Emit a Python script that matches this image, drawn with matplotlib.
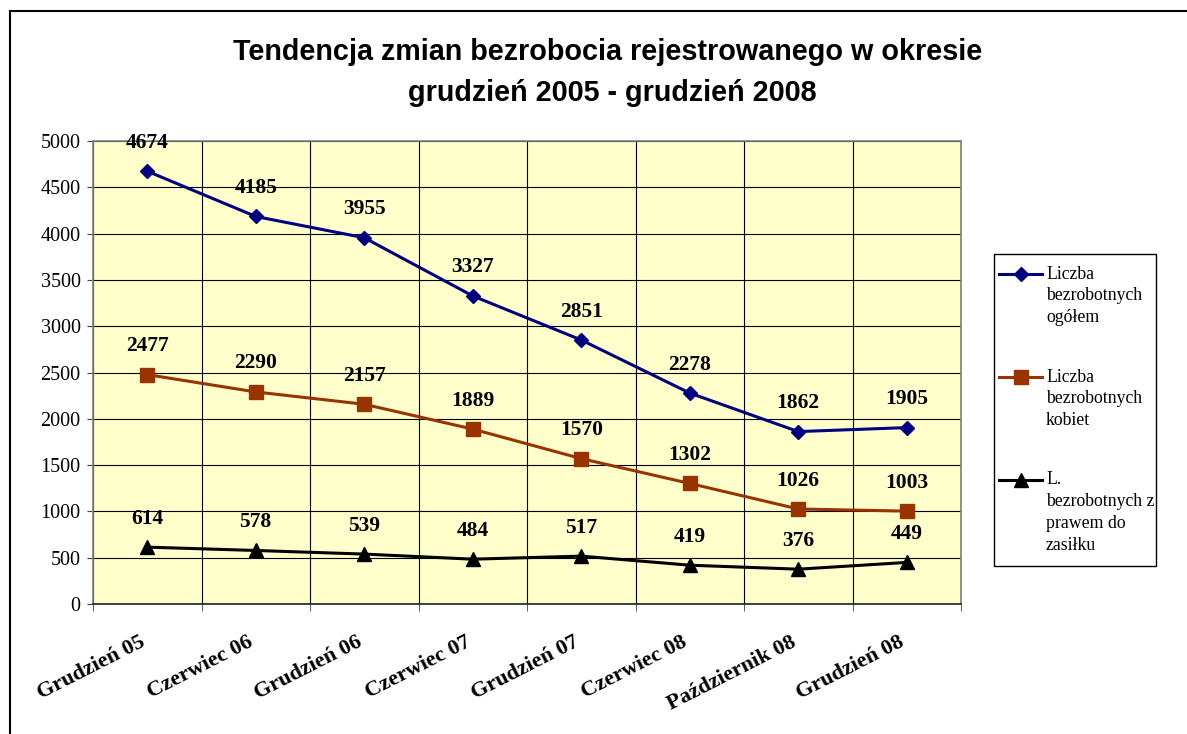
import matplotlib
matplotlib.use('Agg')
import matplotlib.pyplot as plt
from matplotlib.lines import Line2D
from matplotlib.patches import Rectangle

# ---- data ----
categories = ['Grudzień 05', 'Czerwiec 06', 'Grudzień 06', 'Czerwiec 07',
              'Grudzień 07', 'Czerwiec 08', 'Październik 08', 'Grudzień 08']
ogolem = [4674, 4185, 3955, 3327, 2851, 2278, 1862, 1905]
kobiety = [2477, 2290, 2157, 1889, 1570, 1302, 1026, 1003]
zasilek = [614, 578, 539, 484, 517, 419, 376, 449]
series_labels = ['Liczba\nbezrobotnych\nogółem',
                 'Liczba\nbezrobotnych\nkobiet',
                 'L.\nbezrobotnych z\nprawem do\nzasiłku']
yticks = list(range(0, 5001, 500))
title_lines = ['Tendencja zmian bezrobocia rejestrowanego w okresie',
               'grudzień 2005 - grudzień 2008']

W, H = 1187, 734
fig = plt.figure(figsize=(W / 100, H / 100), dpi=100)
fig.patch.set_facecolor('white')

def fx(x):
    return x / W

def fy(y):
    return 1 - y / H

SERIF = 'Liberation Serif'
SANS = 'Liberation Sans'

ax = fig.add_axes([fx(93), fy(604), (961 - 93) / W, (604 - 141) / H])
ax.set_facecolor('#FFFFCC')

styles = [('#000080', 'D', 7.5), ('#993300', 's', 9.5), ('#000000', '^', 10)]
xs = list(range(len(categories)))
for vals, (color, marker, ms) in zip([ogolem, kobiety, zasilek], styles):
    ax.plot(xs, vals, color=color, lw=2.2, marker=marker, ms=ms,
            mfc=color, mec=color, zorder=3, clip_on=False)
    for xi, v in zip(xs, vals):
        ax.annotate(str(v), (xi, v), xytext=(0, 20.5), textcoords='offset points',
                    ha='center', va='center', family=SERIF, fontweight='bold',
                    fontsize=15.5, zorder=4)

ax.set_xlim(-0.5, len(categories) - 0.5)
ax.set_ylim(0, 5000)
ax.set_yticks(yticks)
ax.set_yticklabels([str(t) for t in yticks], family=SERIF, fontsize=14.5)
ax.yaxis.grid(True, color='black', lw=0.8)
ax.set_xticks([i - 0.5 for i in range(len(categories) + 1)], minor=True)
ax.xaxis.grid(True, which='minor', color='black', lw=0.8)
ax.set_xticks(xs)
ax.tick_params(axis='x', which='major', length=0, labelbottom=False)
ax.tick_params(axis='x', which='minor', length=5, direction='out', color='#404040',
               labelbottom=False)
ax.tick_params(axis='y', length=4.5, pad=4.5, color='#404040')
for xi, cat in zip(xs, categories):
    ax.annotate(cat, (xi, 0), xycoords=('data', 'axes fraction'),
                xytext=(-5.8, -20.5), textcoords='offset points',
                rotation=27, ha='right', va='top', rotation_mode='anchor',
                family=SERIF, fontweight='bold', fontsize=16, annotation_clip=False)
ax.set_axisbelow(True)
for s in ['top', 'right', 'left']:
    ax.spines[s].set_color('#808080')
    ax.spines[s].set_linewidth(1.2)
ax.spines['bottom'].set_color('#202020')
ax.spines['bottom'].set_linewidth(1.2)

# title
fig.text(fx(608), fy(52), title_lines[0], ha='center', va='center',
         family=SANS, fontweight='bold', fontsize=20.7)
fig.text(fx(612), fy(93), title_lines[1], ha='center', va='center',
         family=SANS, fontweight='bold', fontsize=20.7)

# outer border (chart area)
fig.add_artist(Line2D([fx(10), fx(10)], [fy(11), 0], color='black', lw=1.5))
fig.add_artist(Line2D([fx(10), 1], [fy(11), fy(11)], color='black', lw=1.5))

# legend
fig.add_artist(Rectangle((fx(994), fy(566)), fx(1156) - fx(994), fy(254) - fy(566),
                         transform=fig.transFigure, facecolor='white',
                         edgecolor='black', lw=1))
entry_y = [274, 377, 480]
line_step = 21.8
for (color, marker, ms), label, yy in zip(styles, series_labels, entry_y):
    fig.add_artist(Line2D([fx(999), fx(1020.5), fx(1042)], [fy(yy)] * 3,
                          color=color, lw=2.2, marker=marker, ms=ms,
                          mfc=color, mec=color, markevery=[1]))
    for k, ln in enumerate(label.split('\n')):
        fig.text(fx(1046), fy(yy + k * line_step), ln, ha='left', va='center',
                 family=SERIF, fontsize=12.8)

fig.savefig('out.png', dpi=100)
